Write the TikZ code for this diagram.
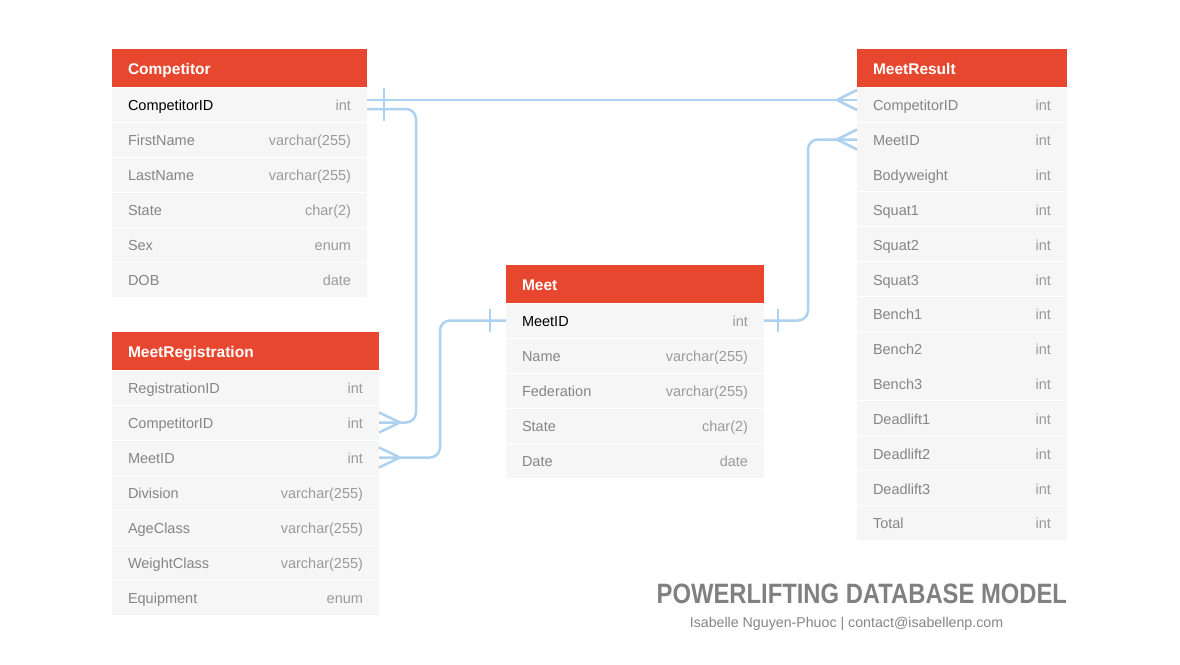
\documentclass[tikz,border=0pt]{standalone}
\usepackage{fontspec}
\setmainfont{Liberation Sans}
\newfontfamily\titlefont[FakeStretch=0.85]{Liberation Sans}
\definecolor{hdred}{HTML}{E8472F}
\definecolor{rowbg}{HTML}{F6F6F6}
\definecolor{fieldgray}{HTML}{858585}
\definecolor{typegray}{HTML}{9A9A9A}
\definecolor{linkblue}{HTML}{AFD1F0}
\definecolor{titlegray}{HTML}{808080}

\begin{document}
\begin{tikzpicture}[x=1pt, y=-1pt,
  every node/.style={outer sep=0pt},
  header/.style={fill=hdred, text=white, anchor=west, inner xsep=16pt, minimum height=38pt, align=left,
    text height=12pt, text depth=0pt, font=\fontsize{15.5}{18}\selectfont\bfseries},
  field/.style={fill=rowbg, text=fieldgray, anchor=west, inner xsep=16pt, minimum height=34pt, align=left,
    text height=12.2pt, text depth=0pt, font=\fontsize{14.5}{17}\selectfont},
  keyfield/.style={field, text=black},
  ftype/.style={text=typegray, anchor=east, inner xsep=16pt, inner ysep=0pt,
    text height=12.2pt, text depth=0pt, font=\fontsize{14.5}{17}\selectfont},
  link/.style={draw=linkblue, line width=2.5pt},
]
\fill[white] (0,0) rectangle (1180,664);
\useasboundingbox (0,0) rectangle (1180,664);

% Competitor
\node[header, text width=223pt] (comp) at (112,68) {Competitor};
\node[keyfield, text width=223pt] (cID) at (112,104.5) {CompetitorID};
\node[ftype] (cIDt) at (cID.east) {int};
\node[field, text width=223pt] (cFirst) at (112,139.5) {FirstName};
\node[ftype] (cFirstt) at (cFirst.east) {varchar(255)};
\node[field, text width=223pt] (cLast) at (112,174.5) {LastName};
\node[ftype] (cLastt) at (cLast.east) {varchar(255)};
\node[field, text width=223pt] (cState) at (112,209.5) {State};
\node[ftype] (cStatet) at (cState.east) {char(2)};
\node[field, text width=223pt] (cSex) at (112,244.5) {Sex};
\node[ftype] (cSext) at (cSex.east) {enum};
\node[field, text width=223pt] (cDOB) at (112,279.5) {DOB};
\node[ftype] (cDOBt) at (cDOB.east) {date};

% MeetRegistration
\node[header, text width=235pt] (reg) at (112,351) {MeetRegistration};
\node[field, text width=235pt] (mrRID) at (112,387.5) {RegistrationID};
\node[ftype] (mrRIDt) at (mrRID.east) {int};
\node[field, text width=235pt] (mrCID) at (112,422.5) {CompetitorID};
\node[ftype] (mrCIDt) at (mrCID.east) {int};
\node[field, text width=235pt] (mrMID) at (112,457.5) {MeetID};
\node[ftype] (mrMIDt) at (mrMID.east) {int};
\node[field, text width=235pt] (mrDiv) at (112,492.5) {Division};
\node[ftype] (mrDivt) at (mrDiv.east) {varchar(255)};
\node[field, text width=235pt] (mrAge) at (112,527.5) {AgeClass};
\node[ftype] (mrAget) at (mrAge.east) {varchar(255)};
\node[field, text width=235pt] (mrWC) at (112,562.5) {WeightClass};
\node[ftype] (mrWCt) at (mrWC.east) {varchar(255)};
\node[field, text width=235pt] (mrEq) at (112,597.5) {Equipment};
\node[ftype] (mrEqt) at (mrEq.east) {enum};

% Meet
\node[header, text width=226pt] (meet) at (506,284) {Meet};
\node[keyfield, text width=226pt] (mID) at (506,320.5) {MeetID};
\node[ftype] (mIDt) at (mID.east) {int};
\node[field, text width=226pt] (mName) at (506,355.5) {Name};
\node[ftype] (mNamet) at (mName.east) {varchar(255)};
\node[field, text width=226pt] (mFed) at (506,390.5) {Federation};
\node[ftype] (mFedt) at (mFed.east) {varchar(255)};
\node[field, text width=226pt] (mState) at (506,425.5) {State};
\node[ftype] (mStatet) at (mState.east) {char(2)};
\node[field, text width=226pt] (mDate) at (506,460.5) {Date};
\node[ftype] (mDatet) at (mDate.east) {date};

% MeetResult
\node[header, text width=178pt] (res) at (857,68) {MeetResult};
\node[field, text width=178pt] (rCID) at (857,104.5) {CompetitorID};
\node[ftype] (rCIDt) at (rCID.east) {int};
\node[field, text width=178pt] (rMID) at (857,139.5) {MeetID};
\node[ftype] (rMIDt) at (rMID.east) {int};
\node[field, text width=178pt] (rBW) at (857,174) {Bodyweight};
\node[ftype] (rBWt) at (rBW.east) {int};
\node[field, text width=178pt] (rSq1) at (857,209) {Squat1};
\node[ftype] (rSq1t) at (rSq1.east) {int};
\node[field, text width=178pt] (rSq2) at (857,244) {Squat2};
\node[ftype] (rSq2t) at (rSq2.east) {int};
\node[field, text width=178pt] (rSq3) at (857,279) {Squat3};
\node[ftype] (rSq3t) at (rSq3.east) {int};
\node[field, text width=178pt] (rBe1) at (857,313.5) {Bench1};
\node[ftype] (rBe1t) at (rBe1.east) {int};
\node[field, text width=178pt] (rBe2) at (857,348.5) {Bench2};
\node[ftype] (rBe2t) at (rBe2.east) {int};
\node[field, text width=178pt] (rBe3) at (857,383) {Bench3};
\node[ftype] (rBe3t) at (rBe3.east) {int};
\node[field, text width=178pt] (rDl1) at (857,418) {Deadlift1};
\node[ftype] (rDl1t) at (rDl1.east) {int};
\node[field, text width=178pt] (rDl2) at (857,453) {Deadlift2};
\node[ftype] (rDl2t) at (rDl2.east) {int};
\node[field, text width=178pt] (rDl3) at (857,488) {Deadlift3};
\node[ftype] (rDl3t) at (rDl3.east) {int};
\node[field, text width=178pt] (rTot) at (857,522.5) {Total};
\node[ftype] (rTott) at (rTot.east) {int};

% relations
\coordinate (bendA) at (416,0);
\coordinate (bendB) at (440,0);
\coordinate (bendC) at (808,0);

\draw[link] ([yshift=4.5pt]cID.east) -- ([yshift=4.5pt]rCID.west);
\draw[link] ([xshift=17pt,yshift=16.5pt]cID.east) -- ([xshift=17pt,yshift=-7.5pt]cID.east);
\draw[link] ([xshift=-20pt,yshift=4.5pt]rCID.west) -- ([yshift=14.5pt]rCID.west);
\draw[link] ([xshift=-20pt,yshift=4.5pt]rCID.west) -- ([yshift=-5.5pt]rCID.west);

\draw[link, rounded corners=10pt] ([yshift=-4.5pt]cID.east) -| (bendA |- mrCID.east) -- (mrCID.east);
\draw[link] ([xshift=17pt,yshift=7.5pt]cID.east) -- ([xshift=17pt,yshift=-16.5pt]cID.east);
\draw[link] ([xshift=21pt]mrCID.east) -- ([yshift=10pt]mrCID.east);
\draw[link] ([xshift=21pt]mrCID.east) -- ([yshift=-10pt]mrCID.east);

\draw[link, rounded corners=10pt] (mID.west) -| (bendB |- mrMID.east) -- (mrMID.east);
\draw[link] ([xshift=-16pt,yshift=11.5pt]mID.west) -- ([xshift=-16pt,yshift=-11.5pt]mID.west);
\draw[link] ([xshift=21pt]mrMID.east) -- ([yshift=10pt]mrMID.east);
\draw[link] ([xshift=21pt]mrMID.east) -- ([yshift=-10pt]mrMID.east);

\draw[link, rounded corners=10pt] (mID.east) -| (bendC |- rMID.west) -- (rMID.west);
\draw[link] ([xshift=14pt,yshift=11.5pt]mID.east) -- ([xshift=14pt,yshift=-11.5pt]mID.east);
\draw[link] ([xshift=-20pt]rMID.west) -- ([yshift=10pt]rMID.west);
\draw[link] ([xshift=-20pt]rMID.west) -- ([yshift=-10pt]rMID.west);

% caption
\node[anchor=base east, inner sep=0pt, text=titlegray, font=\titlefont\bfseries\fontsize{28}{30}\selectfont] (title) at (1067,603) {POWERLIFTING DATABASE MODEL};
\node[anchor=base, inner sep=0pt, text=fieldgray, font=\fontsize{14.2}{16}\selectfont] (author) at (846.5,627) {Isabelle Nguyen-Phuoc | contact@isabellenp.com};
\end{tikzpicture}
\end{document}
